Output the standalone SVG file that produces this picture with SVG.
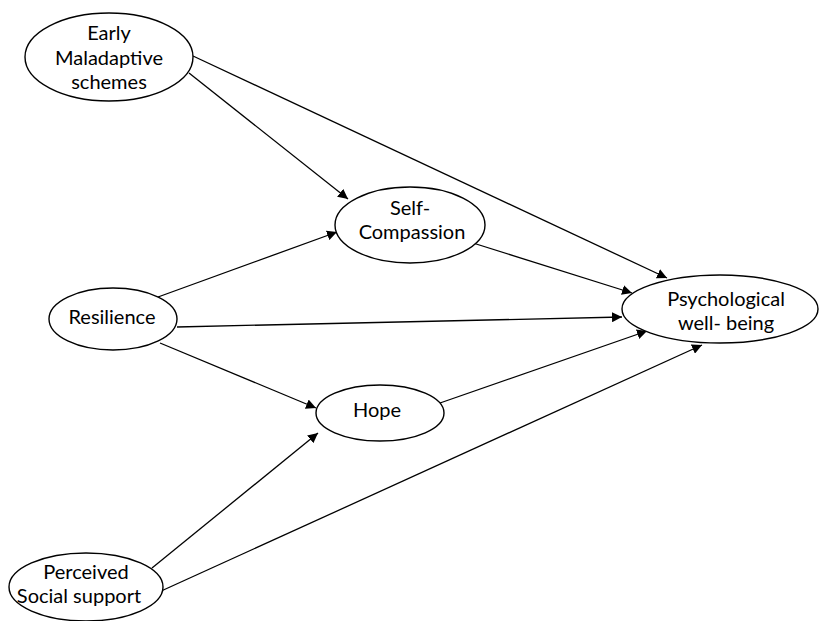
<svg xmlns="http://www.w3.org/2000/svg" width="819" height="621" viewBox="0 0 819 621">
<defs>
<marker id="arr" viewBox="0 0 10 10" refX="10" refY="5" markerWidth="10" markerHeight="10" markerUnits="userSpaceOnUse" orient="auto">
<path d="M0,0 L10,5 L0,10 z" fill="#000"/>
</marker>
</defs>
<style>
.node ellipse{fill:#fff;stroke:#000;stroke-width:1.4}
.node text{font-family:Lato,"Open Sans","Liberation Sans",sans-serif;font-size:20px;fill:#000;text-anchor:middle}
.edges line{stroke:#000;stroke-width:1.3;marker-end:url(#arr)}
</style>
<rect width="819" height="621" fill="#fff"/>
<g class="edges">
<line x1="193" y1="56" x2="667" y2="278"/>
<line x1="189" y1="73" x2="348" y2="199"/>
<line x1="158" y1="297" x2="337" y2="232"/>
<line x1="177" y1="327" x2="622" y2="317"/>
<line x1="160" y1="343" x2="316" y2="408"/>
<line x1="473" y1="243" x2="632" y2="293"/>
<line x1="440" y1="403" x2="647" y2="331"/>
<line x1="152" y1="568" x2="318" y2="433"/>
<line x1="159" y1="592" x2="702" y2="345"/>
</g>
<g id="ems" class="node">
<ellipse cx="109" cy="57" rx="84" ry="44"/>
<text x="109" y="40">Early</text>
<text x="109" y="65">Maladaptive</text>
<text x="109" y="89">schemes</text>
</g>
<g id="sc" class="node">
<ellipse cx="410" cy="225" rx="75" ry="38"/>
<text x="410" y="215">Self-</text>
<text x="412" y="239">Compassion</text>
</g>
<g id="pwb" class="node">
<ellipse cx="720" cy="309" rx="98" ry="34"/>
<text x="726" y="306">Psychological</text>
<text x="726" y="330">well- being</text>
</g>
<g id="res" class="node">
<ellipse cx="113" cy="319" rx="64" ry="31"/>
<text x="112" y="324">Resilience</text>
</g>
<g id="hope" class="node">
<ellipse cx="380" cy="413" rx="64" ry="28"/>
<text x="377" y="417">Hope</text>
</g>
<g id="pss" class="node">
<ellipse cx="86" cy="587" rx="77" ry="34"/>
<text x="86" y="579">Perceived</text>
<text x="79" y="603">Social support</text>
</g>
</svg>
